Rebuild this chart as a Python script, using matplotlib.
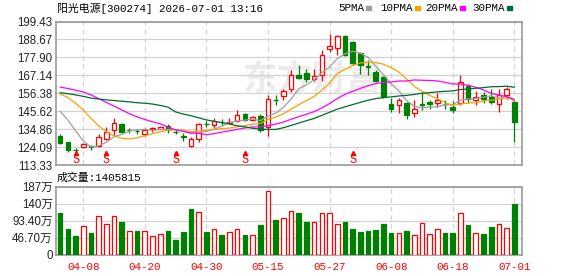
import numpy as np
import matplotlib
matplotlib.use("Agg")
import matplotlib.pyplot as plt
import matplotlib.transforms as mtransforms
from matplotlib.patches import Rectangle

# daily bars, 60 sessions (price in yuan, volume in 万股)
opens = [131.0, 127.1, 122.6, 124.1, 124.6, 124.8, 128.8, 134.6, 138.0, 134.6,
         134.0, 132.0, 135.2, 135.0, 137.0, 133.4, 130.6, 125.0, 129.0, 138.2,
         137.4, 139.4, 138.8, 139.9, 144.2, 140.4, 143.0, 136.2, 152.6, 154.7,
         159.0, 167.6, 168.6, 165.2, 167.6, 182.8, 183.8, 190.7, 187.0, 180.3,
         172.7, 169.0, 166.2, 150.2, 149.7, 150.7, 144.8, 149.9, 151.3, 150.7,
         150.2, 148.0, 150.4, 160.7, 152.3, 155.3, 154.0, 149.8, 155.7, 151.3]
highs = [131.8, 127.4, 123.6, 126.5, 125.2, 131.8, 136.2, 141.5, 138.5, 135.4,
         135.3, 135.4, 136.4, 136.3, 137.8, 134.4, 132.4, 130.4, 138.4, 140.0,
         141.4, 140.8, 141.4, 146.3, 144.6, 143.0, 144.2, 155.3, 155.3, 159.3,
         170.5, 173.2, 171.2, 171.2, 182.1, 192.1, 191.2, 191.2, 188.0, 181.1,
         176.2, 170.5, 166.8, 153.9, 153.6, 151.3, 152.3, 157.3, 152.3, 156.7,
         152.3, 151.9, 167.2, 161.8, 158.0, 157.0, 159.3, 159.3, 160.3, 152.3]
lows = [125.9, 121.4, 120.6, 123.5, 122.6, 124.4, 128.4, 130.8, 133.0, 132.5,
        131.8, 131.0, 133.5, 134.8, 132.5, 132.0, 128.0, 124.1, 127.5, 136.4,
        135.4, 137.4, 138.0, 139.3, 140.0, 139.6, 133.4, 131.0, 149.3, 152.3,
        157.5, 165.2, 163.2, 163.6, 163.6, 181.1, 179.1, 178.5, 173.5, 168.2,
        167.5, 163.0, 153.8, 145.5, 144.5, 141.0, 142.3, 146.5, 147.3, 148.5,
        147.3, 144.5, 149.5, 150.5, 149.5, 150.5, 150.3, 145.5, 153.0, 127.4]
closes = [126.5, 122.5, 122.2, 126.0, 124.2, 130.0, 133.3, 138.4, 133.4, 134.3,
          133.7, 134.4, 135.5, 136.0, 134.3, 133.1, 130.3, 128.8, 138.0, 137.8,
          140.0, 139.0, 139.2, 143.3, 140.6, 142.5, 134.6, 152.8, 152.3, 157.7,
          167.2, 165.9, 164.8, 166.8, 179.1, 184.6, 190.7, 179.1, 174.6, 173.1,
          172.3, 164.0, 154.3, 146.9, 152.3, 143.3, 146.8, 149.2, 149.8, 152.3,
          149.8, 146.7, 163.3, 152.9, 154.5, 153.1, 151.0, 155.5, 158.8, 139.3]
volume = [114, 70, 51, 78, 60, 106, 84, 106, 90, 65,
          65, 65, 51, 57, 65, 40, 62, 125, 117, 62,
          72, 54, 62, 72, 54, 54, 81, 175, 95, 100,
          119, 114, 90, 90, 114, 114, 84, 90, 70, 62,
          65, 68, 84, 60, 60, 65, 54, 87, 57, 70,
          60, 60, 114, 81, 60, 57, 76, 84, 73, 140.5815]

# moving averages before enough bars are in the window
ma5_head = [145.7, 140.5, 134.0, 128.0]
ma10_head = [156.0, 154.0, 150.5, 146.5, 141.5, 137.0, 133.5, 131.0, 129.5]
ma20_head = [160.2, 159.3, 158.3, 157.3, 155.5, 153.3, 151.0, 148.8, 146.5, 144.2,
             142.3, 140.8, 139.4, 138.2, 136.2, 134.6, 133.6, 132.6, 132.5]
ma30_head = [156.8, 156.2, 155.5, 154.6, 153.6, 153.0, 152.5, 152.1, 151.7, 151.3,
             150.8, 150.5, 150.0, 149.2, 148.2, 145.3, 144.0, 143.0, 141.8, 140.5,
             139.7, 138.9, 138.1, 137.0, 136.3, 135.5, 135.0, 134.8, 134.8]

sell_marks = [2, 6, 15, 24, 38]   # bars with an "S" signal

date_idx = [3, 11, 19, 27, 35, 43, 51, 59]
date_labels = ["04-08", "04-20", "04-30", "05-15", "05-27", "06-08", "06-18", "07-01"]
price_ticks = [113.33, 124.09, 134.86, 145.62, 156.38, 167.14, 177.90, 188.67, 199.43]
vol_ticks = [0, 46.70, 93.40, 140.1, 187]
vol_labels = ["0", "46.70万", "93.40万", "140万", "187万"]

title = "阳光电源[300274] 2026-07-01 13:16"
vol_title = "成交量:1405815"

RED = "#ff0000"
GREEN = "#008000"
GRID = "#d3d3d3"
FRAME = "#999999"
ma_styles = [("5PMA", "#a0a0a0"), ("10PMA", "#f5a300"),
             ("20PMA", "#ff00ff"), ("30PMA", "#006b30")]

W, H = 578, 276
fig = plt.figure(figsize=(W / 100, H / 100), dpi=100)


def px_axes(left, top, right, bottom):
    return fig.add_axes([left / W, 1 - bottom / H, (right - left) / W, (bottom - top) / H])


ax = px_axes(55.5, 21.5, 522.3, 165.3)
axv = px_axes(55.5, 186.7, 522.3, 254.7)

o = np.array(opens)
h = np.array(highs)
l = np.array(lows)
c = np.array(closes)
v = np.array(volume)
x = np.arange(len(c))
up = c >= o
prev = np.r_[o[0], c[:-1]]
vol_up = c > prev

for a in (ax, axv):
    a.set_xlim(-0.6, len(c) + 0.04)
    for s in a.spines.values():
        s.set_color(FRAME)
        s.set_linewidth(1.2)
    a.set_xticks(date_idx)
    a.grid(axis="x", color=GRID, linestyle=(0, (4, 3)), linewidth=0.9)
    a.grid(axis="y", color=GRID, linewidth=0.9)
    a.set_axisbelow(True)
    a.tick_params(length=0, pad=2)

# watermark
ax.text(0.55, 0.60, "东方财富", transform=ax.transAxes, fontsize=25, fontweight="bold",
        color="#ebebeb", ha="center", va="center", family="Noto Sans CJK SC", zorder=0)

# candles
ax.vlines(x, l, h, colors=np.where(up, RED, GREEN), linewidth=0.9, zorder=2)
body_lo = np.minimum(o, c)
body_h = np.abs(c - o)
ax.bar(x, body_h, bottom=body_lo, width=0.6,
       color=np.where(up, "white", GREEN), edgecolor=np.where(up, RED, GREEN),
       linewidth=0.9, zorder=3)


def moving_avg(head, n):
    tail = [c[i - n + 1:i + 1].mean() for i in range(n - 1, len(c))]
    return np.r_[head, tail]


for (name, col), head, n in zip(ma_styles, [ma5_head, ma10_head, ma20_head, ma30_head],
                                [5, 10, 20, 30]):
    ax.plot(x, moving_avg(head, n), color=col, linewidth=0.9, zorder=4)

ax.set_ylim(113.33, 199.43)
ax.set_yticks(price_ticks)
ax.set_yticklabels(["%.2f" % t for t in price_ticks], fontsize=8.3,
                   color="#222222", family="Liberation Sans")
ax.set_xticklabels([])

# sell signals
trans = mtransforms.blended_transform_factory(ax.transData, ax.transAxes)
for i in sell_marks:
    ax.text(i, 0.035, "S", transform=trans, color=RED, fontsize=8.5,
            ha="center", va="center", family="Liberation Mono")
    ax.plot([i], [0.088], marker="^", markersize=3, color=RED, transform=trans,
            clip_on=False)

# volume
axv.bar(x, v, width=0.6, color=np.where(vol_up, "white", GREEN),
        edgecolor=np.where(vol_up, RED, GREEN), linewidth=0.9, zorder=3)
axv.set_ylim(0, 187)
axv.set_yticks(vol_ticks)
axv.set_yticklabels(vol_labels, fontsize=8.3, color="#222222",
                    family=["Liberation Sans", "Noto Sans CJK SC"])
axv.set_xticklabels(date_labels, fontsize=7.8, color=RED, family="Liberation Mono")
axv.tick_params(axis="x", pad=5)

# header texts
mono = ["Liberation Mono", "Noto Sans CJK SC"]
fig.text(57 / W, 1 - 8 / H, title, fontsize=7.8, va="center", family=mono)
fig.text(57 / W, 1 - 178 / H, vol_title, fontsize=7.8, va="center", family=mono)

legend_x = [338, 380, 425, 472]
for (name, col), lx in zip(ma_styles, legend_x):
    t = fig.text(lx / W, 1 - 8 / H, name, fontsize=7.8, va="center", family=mono)
    sq_x = lx + 6.3 * len(name) + 3
    fig.add_artist(Rectangle((sq_x / W, 1 - 10 / H), 5 / W, 4 / H,
                             transform=fig.transFigure, color=col))

fig.savefig("out.png", dpi=100)
